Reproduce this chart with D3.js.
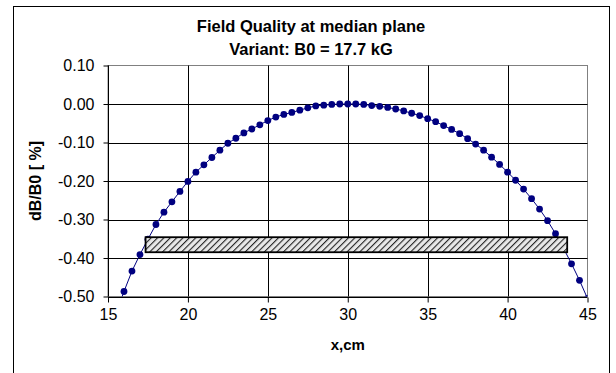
<!DOCTYPE html>
<html>
<head>
<meta charset="utf-8">
<script src="https://cdn.jsdelivr.net/npm/d3@7/dist/d3.min.js"></script>
<style>
  html, body { margin: 0; padding: 0; background: #fff; }
  svg { display: block; }
  text { font-family: "Liberation Sans", Arial, sans-serif; fill: #000; }
</style>
</head>
<body>
<script>
// Position along the median plane, cm
const xPos = [
  15.5, 16, 16.5, 17, 17.5, 18, 18.5, 19, 19.5, 20,
  20.5, 21, 21.5, 22, 22.5, 23, 23.5, 24, 24.5, 25,
  25.5, 26, 26.5, 27, 27.5, 28, 28.5, 29, 29.5, 30,
  30.5, 31, 31.5, 32, 32.5, 33, 33.5, 34, 34.5, 35,
  35.5, 36, 36.5, 37, 37.5, 38, 38.5, 39, 39.5, 40,
  40.5, 41, 41.5, 42, 42.5, 43, 43.5, 44, 44.5, 45
];
// Relative field deviation dB/B0, %
const dB = [
  -0.545, -0.487, -0.434, -0.391, -0.351, -0.313, -0.281, -0.254, -0.227, -0.201,
  -0.177, -0.158, -0.139, -0.120, -0.102, -0.089, -0.075, -0.065, -0.054, -0.043,
  -0.034, -0.027, -0.022, -0.016, -0.010, -0.005, -0.003, -0.001, 0.000, 0.000,
  0.000, -0.001, -0.004, -0.006, -0.009, -0.013, -0.018, -0.024, -0.030, -0.038,
  -0.046, -0.056, -0.066, -0.077, -0.090, -0.104, -0.120, -0.138, -0.157, -0.177,
  -0.198, -0.221, -0.246, -0.273, -0.303, -0.337, -0.375, -0.415, -0.458, -0.505
];
// Tolerance band (hatched): x extent and dB/B0 extent
const bandX = [17.35, 43.73];
const bandY = [-0.346, -0.385];

const xTicks = [15, 20, 25, 30, 35, 40, 45];
const yTicks = [0.10, 0.00, -0.10, -0.20, -0.30, -0.40, -0.50];

const titleLines = ["Field Quality at median plane", "Variant: B0 = 17.7 kG"];
const xTitle = "x,cm";
const yTitle = "dB/B0 [ %]";

const W = 616, H = 373;
const plot = { left: 108, right: 587.5, top: 65.5, bottom: 296.5 };

const svg = d3.select("body").append("svg").attr("width", W).attr("height", H);

// Chart frame
svg.append("rect")
  .attr("x", 13.5).attr("y", 6.5)
  .attr("width", 596).attr("height", 400)
  .attr("fill", "#fff").attr("stroke", "#000").attr("stroke-width", 1);

const x = d3.scaleLinear().domain([15, 45]).range([plot.left, plot.right]);
const y = d3.scaleLinear().domain([-0.5, 0.1]).range([plot.bottom, plot.top]);

const defs = svg.append("defs");
defs.append("clipPath").attr("id", "plotClip")
  .append("rect")
  .attr("x", plot.left).attr("y", plot.top)
  .attr("width", plot.right - plot.left).attr("height", plot.bottom - plot.top);

const hatch = defs.append("pattern")
  .attr("id", "hatch").attr("patternUnits", "userSpaceOnUse")
  .attr("width", 4.5).attr("height", 4.5)
  .attr("patternTransform", "rotate(45)");
hatch.append("rect").attr("width", 4.5).attr("height", 4.5).attr("fill", "#e8e8e8");
hatch.append("line").attr("x1", 0).attr("y1", 0).attr("x2", 0).attr("y2", 4.5)
  .attr("stroke", "#222").attr("stroke-width", 2.2);

// Plot area border
svg.append("rect")
  .attr("x", plot.left).attr("y", plot.top)
  .attr("width", plot.right - plot.left).attr("height", plot.bottom - plot.top)
  .attr("fill", "#fff").attr("stroke", "#808080").attr("stroke-width", 1);

// Gridlines
const grid = svg.append("g").attr("stroke", "#000").attr("stroke-width", 1);
grid.selectAll("line.h").data(yTicks.filter(v => v < 0.099 && v > -0.499)).join("line")
  .attr("x1", plot.left).attr("x2", plot.right)
  .attr("y1", d => Math.round(y(d)) + 0.5).attr("y2", d => Math.round(y(d)) + 0.5);
grid.selectAll("line.v").data(xTicks.filter(v => v > 15 && v < 45)).join("line")
  .attr("y1", plot.top).attr("y2", plot.bottom)
  .attr("x1", d => Math.round(x(d)) + 0.5).attr("x2", d => Math.round(x(d)) + 0.5);

// Axes (plain hyphen-minus for negative labels)
const fmt2 = d3.format(".2f");
const xAxis = d3.axisBottom(x).tickValues(xTicks).tickSize(5).tickPadding(6)
  .tickFormat(d3.format("d"));
const yAxis = d3.axisLeft(y).tickValues(yTicks).tickSize(5).tickPadding(9)
  .tickFormat(d => fmt2(d).replace("\u2212", "-"));

const gx = svg.append("g").attr("transform", `translate(0,${Math.round(plot.bottom) + 0.5})`).call(xAxis);
const gy = svg.append("g").attr("transform", `translate(${Math.round(plot.left) + 0.5},0)`).call(yAxis);
[gx, gy].forEach(g => {
  g.select(".domain").attr("stroke", "#000");
  g.selectAll(".tick line").attr("stroke", "#000");
  g.selectAll(".tick text")
    .attr("font-family", "'Liberation Sans', Arial, sans-serif")
    .attr("font-size", 16).attr("fill", "#000");
});
gx.select(".domain").attr("d", `M${x(15)},0H${x(45)}`);
gy.select(".domain").attr("d", `M0,${y(0.1)}V${y(-0.5)}`);

// Data series
const series = xPos.map((v, i) => ({ x: v, y: dB[i] }));
const gData = svg.append("g").attr("clip-path", "url(#plotClip)");
gData.append("path")
  .datum(series)
  .attr("fill", "none").attr("stroke", "#000080").attr("stroke-width", 1)
  .attr("d", d3.line().x(d => x(d.x)).y(d => y(d.y)));
gData.selectAll("circle").data(series).join("circle")
  .attr("cx", d => x(d.x)).attr("cy", d => y(d.y)).attr("r", 3.4)
  .attr("fill", "#000080");

// Tolerance band
svg.append("rect")
  .attr("x", x(bandX[0])).attr("y", y(bandY[0]))
  .attr("width", x(bandX[1]) - x(bandX[0]))
  .attr("height", y(bandY[1]) - y(bandY[0]))
  .attr("fill", "url(#hatch)").attr("stroke", "#000").attr("stroke-width", 1.8);

// Titles
svg.append("text").attr("x", 311).attr("y", 31.5).attr("text-anchor", "middle")
  .attr("font-size", 16.5).attr("font-weight", "bold").text(titleLines[0]);
svg.append("text").attr("x", 311).attr("y", 54.5).attr("text-anchor", "middle")
  .attr("font-size", 16.5).attr("font-weight", "bold").text(titleLines[1]);
svg.append("text").attr("x", (plot.left + plot.right) / 2).attr("y", 350)
  .attr("text-anchor", "middle").attr("font-size", 15).attr("font-weight", "bold")
  .text(xTitle);
svg.append("text").attr("transform", `translate(41,${(plot.top + plot.bottom) / 2}) rotate(-90)`)
  .attr("text-anchor", "middle").attr("font-size", 16).attr("font-weight", "bold")
  .text(yTitle);
</script>
</body>
</html>
